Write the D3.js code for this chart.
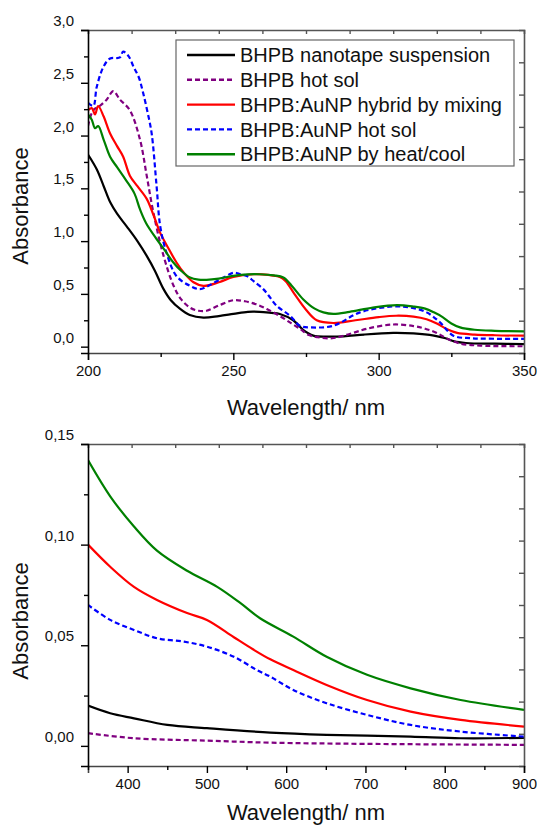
<!DOCTYPE html>
<html>
<head>
<meta charset="utf-8">
<script src="https://cdn.jsdelivr.net/npm/d3@7"></script>
<style>
  body { margin: 0; background: #fff; }
  svg { display: block; }
  text { font-family: "Liberation Sans", Arial, sans-serif; fill: #111; }
</style>
</head>
<body>
<svg id="chart" width="537" height="826"></svg>
<script>
// series names and styles order: suspension, hot sol, mixing, AuNP hot sol, heat/cool
let seriesNames = ["BHPB nanotape suspension", "BHPB hot sol", "BHPB:AuNP hybrid by mixing", "BHPB:AuNP hot sol", "BHPB:AuNP by heat/cool"];
let seriesColors = ["#000000", "#800080", "#ff0000", "#0000ff", "#008000"];
let seriesDashed = [false, true, false, true, false];

// top panel, 200-350 nm  [wavelength, absorbance]
let uvBlack = [[200,1.82],[203,1.68],[205.4,1.52],[207.6,1.37],[210,1.26],[213.3,1.14],[217,1.0],[220.2,0.86],[223,0.72],[225.9,0.55],[228.5,0.44],[231.6,0.36],[235,0.30],[239.7,0.275],[245,0.29],[250,0.31],[255,0.33],[259,0.33],[263,0.32],[266,0.31],[270.6,0.25],[274,0.16],[277.5,0.105],[282,0.095],[288,0.098],[295,0.115],[305,0.13],[312,0.125],[319,0.105],[323,0.08],[326,0.05],[330,0.035],[340,0.028],[350,0.025]];
let uvPurple = [[200,2.09],[201.8,2.24],[204,2.28],[206.4,2.34],[208.7,2.42],[211,2.34],[214.4,2.24],[217.9,1.96],[220.2,1.62],[222.5,1.27],[226,0.86],[229.4,0.58],[232,0.45],[235.1,0.37],[238,0.34],[240.8,0.34],[245,0.39],[250,0.44],[254,0.43],[258,0.40],[262,0.35],[266,0.29],[270,0.22],[273,0.167],[276,0.11],[279,0.09],[284,0.08],[290,0.12],[296,0.17],[305,0.21],[312,0.195],[316,0.17],[320,0.13],[324,0.07],[328,0.03],[335,0.01],[350,0.004]];
let uvRed = [[200,2.24],[201.3,2.26],[202.4,2.20],[203.5,2.28],[205.4,2.18],[207.6,2.02],[210,1.90],[212.1,1.80],[214.4,1.62],[217,1.52],[220.2,1.40],[222.5,1.25],[224.8,1.08],[227.5,0.94],[230.4,0.80],[233,0.70],[236.3,0.61],[239.7,0.576],[245,0.61],[250,0.66],[256.9,0.686],[262,0.68],[266,0.66],[268,0.62],[271,0.50],[275,0.35],[278.7,0.25],[284.4,0.224],[292,0.25],[300,0.28],[306,0.293],[312,0.285],[316.5,0.26],[320,0.22],[323.4,0.167],[327,0.13],[333,0.115],[340,0.108],[350,0.104]];
let uvBlue = [[200,2.31],[201.8,2.28],[203,2.46],[205.3,2.65],[207.6,2.73],[211,2.74],[212.1,2.795],[214,2.75],[215.7,2.65],[217.5,2.55],[219,2.40],[220.5,2.22],[221.9,2.02],[223.6,1.52],[224.8,1.15],[227,0.89],[230.4,0.67],[235.1,0.576],[238.5,0.545],[241,0.57],[244.3,0.62],[247,0.66],[250,0.70],[252,0.69],[254.6,0.67],[257,0.62],[260.3,0.545],[262,0.49],[264.9,0.387],[269.5,0.293],[272.9,0.198],[276.4,0.183],[284.4,0.198],[293.6,0.325],[305.1,0.381],[311,0.37],[316.5,0.325],[321.1,0.23],[325.7,0.104],[332,0.08],[340,0.075],[350,0.073]];
let uvGreen = [[200,2.20],[201.3,2.15],[202.4,2.07],[203.5,2.09],[205.4,1.96],[207.6,1.80],[210,1.70],[213,1.58],[216,1.45],[217.9,1.30],[220,1.17],[223.6,1.02],[226.5,0.91],[229.3,0.80],[232,0.72],[235.1,0.655],[238,0.635],[240.8,0.633],[245,0.645],[250,0.67],[255,0.685],[259,0.686],[264,0.675],[267.2,0.655],[270,0.58],[274,0.45],[278,0.36],[281,0.325],[284.4,0.31],[290,0.33],[298,0.37],[306.3,0.394],[312,0.38],[316,0.36],[319,0.325],[322,0.28],[325,0.22],[328,0.183],[333,0.16],[340,0.15],[350,0.145]];

// bottom panel, 350-900 nm
let visBlack = [[350,0.020],[378,0.0162],[408,0.0137],[450,0.0104],[500,0.0088],[580,0.0066],[651,0.0055],[757,0.0046],[820,0.0038],[900,0.0040]];
let visPurple = [[350,0.0063],[408,0.0038],[500,0.0026],[580,0.0016],[700,0.0010],[900,0.0005]];
let visRed = [[350,0.100],[378,0.089],[408,0.079],[437,0.0725],[475,0.066],[500,0.0626],[534,0.054],[558,0.048],[580,0.043],[609,0.0377],[651,0.0303],[702,0.0228],[757,0.017],[820,0.0129],[900,0.0096]];
let visBlue = [[350,0.070],[378,0.0626],[408,0.0576],[437,0.0535],[471,0.0518],[500,0.0493],[534,0.0443],[563,0.0377],[580,0.0344],[609,0.0278],[651,0.0212],[702,0.0154],[757,0.0104],[820,0.0071],[900,0.0046]];
let visGreen = [[350,0.142],[378,0.124],[408,0.109],[437,0.097],[475,0.087],[513,0.079],[542,0.071],[567,0.0634],[609,0.0543],[651,0.0443],[702,0.0353],[757,0.0286],[820,0.0228],[900,0.0179]];

// ticks
let topXTicks = [200, 250, 300, 350];
let topXMinor = [225, 275, 325];
let topYTicks = [0, 0.5, 1.0, 1.5, 2.0, 2.5, 3.0];
let topYMinor = [0.25, 0.75, 1.25, 1.75, 2.25, 2.75];
let botXTicks = [400, 500, 600, 700, 800, 900];
let botXMinor = [350, 450, 550, 650, 750, 850];
let botYTicks = [0, 0.05, 0.10, 0.15];
let botYMinor = [0.025, 0.075, 0.125];

let svg = d3.select("#chart");
let fontsize = 15;

function comma(fmt) {
	let f = d3.format(fmt);
	return d => f(d).replace(".", ",");
}

function drawPanel(p) {
	let g = svg.append("g");
	let x = d3.scaleLinear().domain(p.xdom).range([p.left, p.right]);
	let y = d3.scaleLinear().domain(p.ydom).range([p.bottom, p.top]);

	let clipId = "clip" + p.top;
	g.append("clipPath").attr("id", clipId)
		.append("rect")
		.attr("x", p.left).attr("y", p.top)
		.attr("width", p.right - p.left).attr("height", p.bottom - p.top);

	// curves
	let line = d3.line()
		.x(d => x(d[0]))
		.y(d => y(d[1]))
		.curve(d3.curveCatmullRom.alpha(0.5));

	let lines = g.append("g").attr("clip-path", "url(#" + clipId + ")");
	p.series.forEach((s, i) => {
		lines.append("path")
			.attr("d", line(s))
			.attr("fill", "none")
			.attr("stroke", seriesColors[i])
			.attr("stroke-width", 2.2)
			.attr("stroke-dasharray", seriesDashed[i] ? "5,3" : null)
			.attr("stroke-linejoin", "round");
	});

	// frame top/right in dark grey, inner ticks at ten divisions
	let div = d3.scaleLinear().domain([0, 10]).range([p.left, p.right]);
	let divY = d3.scaleLinear().domain([0, 10]).range([p.bottom, p.top]);
	let ta = g.append("g").attr("transform", "translate(0," + p.top + ")")
		.call(d3.axisTop(div).tickValues(d3.range(1, 10)).tickSize(-4).tickFormat(""));
	let ra = g.append("g").attr("transform", "translate(" + p.right + ",0)")
		.call(d3.axisRight(divY).tickValues(d3.range(1, 10)).tickSize(-5).tickFormat(""));
	[ta, ra].forEach(a => {
		a.select(".domain").attr("stroke", "#555").attr("stroke-width", 1.6);
		a.selectAll(".tick line").attr("stroke", "#555").attr("stroke-width", 1.4);
	});

	// bottom axis
	let bx = g.append("g").attr("transform", "translate(0," + p.bottom + ")")
		.call(d3.axisBottom(x).tickValues(p.xticks).tickSize(7).tickPadding(3).tickFormat(d3.format("d")));
	g.append("g").attr("transform", "translate(0," + p.bottom + ")")
		.call(d3.axisBottom(x).tickValues(p.xminor).tickSize(4).tickFormat(""))
		.select(".domain").remove();

	// left axis
	let ly = g.append("g").attr("transform", "translate(" + p.left + ",0)")
		.call(d3.axisLeft(y).tickValues(p.yticks).tickSize(7).tickPadding(7).tickFormat(comma(p.yfmt)));
	g.append("g").attr("transform", "translate(" + p.left + ",0)")
		.call(d3.axisLeft(y).tickValues(p.yminor).tickSize(4).tickFormat(""))
		.select(".domain").remove();

	g.selectAll(".domain").attr("stroke-width", 1.6);
	bx.select(".domain").attr("stroke", "#444");
	ly.select(".domain").attr("stroke", "#000");
	g.selectAll(".tick line").attr("stroke-width", 1.4);
	g.selectAll(".tick text")
		.attr("font-size", fontsize)
		.attr("font-family", "Liberation Sans, Arial, sans-serif")
		.attr("fill", "#111");
	// Origin style: left labels sit a bit above their ticks
	ly.selectAll(".tick text").attr("dy", "-0.3em");
	bx.selectAll(".tick text").attr("dy", "0.85em");

	g.append("text")
		.attr("x", (p.left + p.right) / 2)
		.attr("y", p.bottom + p.xtitle)
		.attr("text-anchor", "middle")
		.attr("font-size", 22)
		.text("Wavelength/ nm");

	g.append("text")
		.attr("transform", "translate(28," + p.ytitle + ") rotate(-90)")
		.attr("text-anchor", "middle")
		.attr("font-size", 22)
		.text("Absorbance");

	return g;
}

drawPanel({
	left: 88, right: 524, top: 30, bottom: 353,
	xdom: [200, 350], ydom: [-0.06, 3.0],
	xticks: topXTicks, xminor: topXMinor,
	yticks: topYTicks, yminor: topYMinor, yfmt: ".1f",
	ytitle: 206, xtitle: 62,
	series: [uvBlack, uvPurple, uvRed, uvBlue, uvGreen]
});

drawPanel({
	left: 88, right: 524, top: 444, bottom: 766,
	xdom: [350, 900], ydom: [-0.01, 0.15],
	xticks: botXTicks, xminor: botXMinor,
	yticks: botYTicks, yminor: botYMinor, yfmt: ".2f",
	ytitle: 621, xtitle: 54,
	series: [visBlack, visPurple, visRed, visBlue, visGreen]
});

// legend
let lg = svg.append("g");
lg.append("rect")
	.attr("x", 176).attr("y", 40)
	.attr("width", 338).attr("height", 126)
	.attr("fill", "#fff")
	.attr("stroke", "#666")
	.attr("stroke-width", 1.2);

let rows = lg.selectAll("g.row")
	.data(seriesNames).enter()
	.append("g")
	.attr("class", "row")
	.attr("transform", (d, i) => "translate(0," + (55 + i * 24.8) + ")");

rows.append("line")
	.attr("x1", 187).attr("x2", 235)
	.attr("stroke", (d, i) => seriesColors[i])
	.attr("stroke-width", 2.4)
	.attr("stroke-dasharray", (d, i) => seriesDashed[i] ? "5,3" : null);

rows.append("text")
	.attr("x", 240)
	.attr("dy", "0.36em")
	.attr("font-size", 20)
	.text(d => d);
</script>
</body>
</html>
